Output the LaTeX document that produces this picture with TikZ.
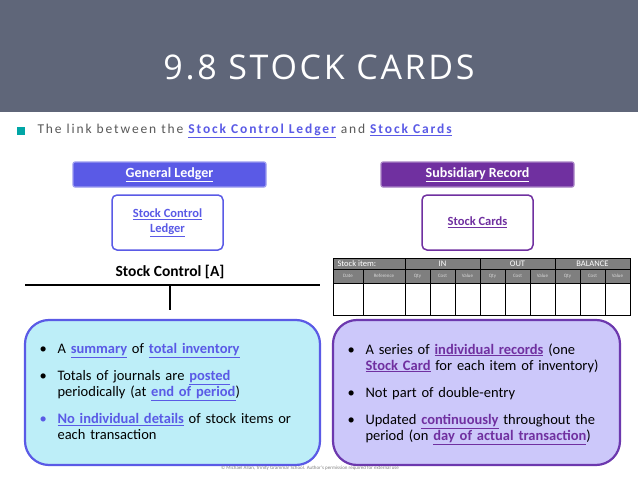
\documentclass[tikz,border=0pt]{standalone}
\usepackage{fontspec}
\setmainfont{Carlito}
\newfontfamily\titlefont[LetterSpace=8]{Open Sans}
\newfontfamily\linkfont[LetterSpace=14]{Carlito}
\definecolor{band}{HTML}{5F6679}
\definecolor{gl}{HTML}{5A5AE6}
\definecolor{sr}{HTML}{7030A0}
\definecolor{cyanbox}{HTML}{BDEEF8}
\definecolor{lilac}{HTML}{CCC8FA}
\definecolor{grayhead}{HTML}{7F7F7F}
\newcommand{\hlw}[2]{\textcolor{#1}{\textbf{\underline{#2}}}}
\newcommand{\bul}[1][black]{\makebox[18pt][l]{\textcolor{#1}{\textbullet}}}
\tikzset{
  ledgerbox/.style={draw=#1!60!white, fill=#1, line width=1.2pt, rounded corners=2pt,
    minimum width=193pt, minimum height=25pt, text=white, font=\fontsize{14}{16}\selectfont\bfseries},
  namebox/.style={draw=#1, fill=white, line width=1.5pt, rounded corners=5pt,
    minimum width=111pt, minimum height=55pt, text=#1, align=center,
    font=\fontsize{12.5}{15}\selectfont\bfseries},
  notebox/.style={draw=#1, line width=2.2pt, rounded corners=24pt},
  notes/.style={anchor=north west, text width=275pt, align=left,
    font=\fontsize{14.5}{16}\selectfont},
  cell/.style={font=\fontsize{5}{6}\selectfont, text=white!85!black}
}
\begin{document}
\begin{tikzpicture}[x=1pt, y=-1pt]
    \useasboundingbox (0,0) rectangle (638,479);
    \fill[white] (0,0) rectangle (638,479);

    % title band
    \fill[band] (0,0) rectangle (638,112);
    \node[text=white, font=\titlefont\fontsize{34}{38}\selectfont] (title) at (319,67) {9.8 STOCK CARDS};

    % intro line
    \fill[teal!70!cyan] (17,127) rectangle (25,135);
    \node[anchor=west, text=black!65, font=\linkfont\fontsize{13.5}{15}\selectfont] (intro) at (34,131)
      {The link between the \hlw{gl}{Stock Control Ledger} and \hlw{gl}{Stock Cards}};

    % ledger headings
    \node[ledgerbox=gl] (general) at (169.5,174.5) {\underline{General Ledger}};
    \node[ledgerbox=sr] (subsid) at (477.5,174.5) {\underline{Subsidiary Record}};
    \node[namebox=gl] (control) at (167.5,222.5) {\underline{Stock Control}\\\underline{Ledger}};
    \node[namebox=sr] (cards) at (477.5,222.5) {\underline{Stock Cards}};

    % T-account
    \node[font=\fontsize{15.5}{17}\selectfont\bfseries] (tname) at (170,272) {Stock Control [A]};
    \coordinate (tl) at (25,285);
    \coordinate (tr) at (320,285);
    \coordinate (tm) at (170,285);
    \coordinate (tb) at (170,310);
    \draw[line width=2pt] (tl) -- (tr);
    \draw[line width=2pt] (tm) -- (tb);

    % stock card table
    \fill[grayhead] (333,258) rectangle (630,283);
    \draw[line width=0.8pt] (333,258) rectangle (630,315);
    \draw[line width=0.6pt] (333,269) -- (630,269);
    \draw[line width=0.6pt] (333,283) -- (630,283);
    \foreach \x in {405,480,555} \draw[line width=0.6pt] (\x,258) -- (\x,315);
    \foreach \x in {363,430,455,505,530,580,605} \draw[line width=0.6pt] (\x,269) -- (\x,315);
    \node[anchor=west, text=white, font=\fontsize{8.5}{9}\selectfont] (item) at (334,263.5) {Stock item:};
    \foreach \t/\x in {IN/442.5, OUT/517.5, BALANCE/592.5}
      \node[text=white, font=\fontsize{8.5}{9}\selectfont] (h\t) at (\x,263.5) {\t};
    \node[cell] (date) at (348,276) {Date};
    \node[cell] (ref) at (384,276) {Reference};
    \foreach \t/\x in {Qty/417.5, Cost/442.5, Value/467.5, Qty/492.5, Cost/517.5, Value/542.5,
                       Qty/567.5, Cost/592.5, Value/617.5}
      \node[cell] at (\x,276) {\t};

    % note boxes
    \draw[notebox=gl, fill=cyanbox] (25,320) rectangle (320,465);
    \draw[notebox=sr!80!gl, fill=lilac] (333,320) rectangle (620,465);

    \node[notes] (leftnotes) at (36,340) {%
      \bul A \hlw{gl}{summary} of \hlw{gl}{total inventory}\par\vspace{11pt}
      \bul Totals of journals are \hlw{gl}{posted}\par
      \hspace{18pt}periodically (at \hlw{gl}{end of period})\par\vspace{11pt}
      \bul[gl]\hlw{gl}{No individual details} of stock items or\par
      \hspace{18pt}each transaction};
    \node[notes] (rightnotes) at (344,340) {%
      \bul A series of \hlw{sr}{individual records} (one\par
      \hspace{18pt}\hlw{sr}{Stock Card} for each item of inventory)\par\vspace{11pt}
      \bul Not part of double-entry\par\vspace{11pt}
      \bul Updated \hlw{sr}{continuously} throughout the\par
      \hspace{18pt}period (on \hlw{sr}{day of actual transaction})};

    % footer
    \node[text=black!50, font=\fontsize{5}{6}\selectfont] (footer) at (310,468)
      {© Michael Allan, Trinity Grammar School. Author's permission required for external use};
\end{tikzpicture}
\end{document}
